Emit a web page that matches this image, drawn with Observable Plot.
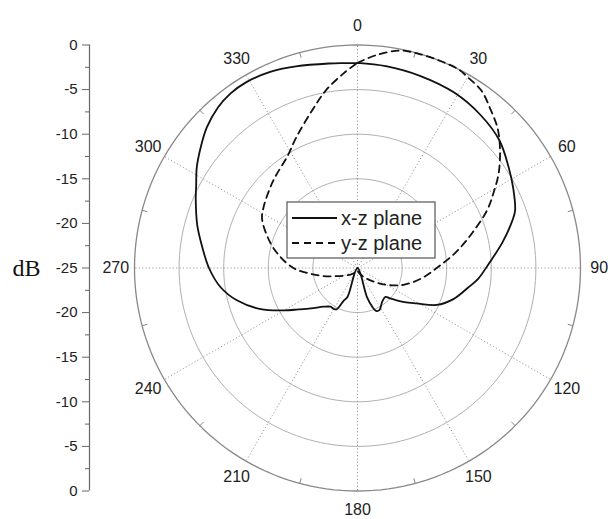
<!DOCTYPE html>
<html><head><meta charset="utf-8">
<script src="https://cdn.jsdelivr.net/npm/d3@7"></script>
<script src="https://cdn.jsdelivr.net/npm/@observablehq/plot@0.6"></script>
<style>body{margin:0;background:#fff} #chart{width:608px;height:519px}</style>
</head><body><div id="chart"></div>
<script>
// x-z plane (solid): angle in degrees (clockwise from top), gain in dB
const xzAngles = [0,8,18,29,39,48,56,63,70,73,80,88,95,100,108,115,121,126,130,133,136,144,152,156,159,162,180,199,203,207,210,215,221,229,235,240,247,255,262,270,278,285,293,297,302,308,313,319,324,329,336,343,352,360];
const xzGain   = [-2.0,-2.15,-2.35,-2.55,-3.0,-3.6,-4.6,-5.4,-6.2,-6.85,-8.5,-10.25,-11.4,-12.4,-13.7,-15.2,-17.3,-18.5,-19.4,-20.0,-20.5,-20.3,-19.7,-19.7,-20.3,-21.6,-25,-21.6,-21.0,-19.8,-19.7,-19.7,-19.25,-18.1,-16.9,-15.5,-13.2,-11.0,-9.5,-8.35,-7.4,-6.4,-5.3,-4.7,-3.75,-2.75,-1.9,-1.15,-0.8,-0.72,-0.93,-1.37,-1.85,-2.0];
// y-z plane (dashed)
const yzAngles = [0,5,11,16,22,27,30,35,40,45,50,56,61,66,73,81,89,99,110,120,130,140,155,170,180,195,210,225,240,250,257,263,268,271,278,286,297,303,316,328,335,344,350,356,360];
const yzGain   = [-2.0,-1.05,-0.17,-0.02,0,-0.02,-0.3,-0.75,-1.8,-2.8,-4.15,-5.9,-7.55,-9.1,-11.55,-13.85,-15.9,-17.7,-19.5,-21.2,-22.6,-23.5,-24.2,-24.6,-24.7,-24.6,-24.4,-24.0,-23.3,-22.3,-21.0,-19.7,-18.3,-17.6,-16.3,-14.85,-13.0,-12.45,-11.4,-10.2,-8.8,-6.6,-4.75,-3.1,-2.0];

const ringLevels = [-20,-15,-10,-5];
const outerLevel = 0;
const floorDb = -25;
const spokeAngles = [0,30,60,90,120,150,180,210,240,270,300,330];
const angleLabels = ["0","30","60","90","120","150","180","210","240","270","300","330"];
const minorAngles = [15,45,75,105,135,165,195,225,255,285,315,345];
const radialTicks = [-25,-20,-15,-10,-5,0,5,10,15,20,25];
const radialMinor = [-22.5,-17.5,-12.5,-7.5,-2.5,2.5,7.5,12.5,17.5,22.5];
const seriesNames = ["x-z plane","y-z plane"];

const rad = a => a * Math.PI / 180;
const px = (a, g) => (g - floorDb) * Math.sin(rad(a));
const py = (a, g) => (g - floorDb) * Math.cos(rad(a));

const xz = xzAngles.map((a, i) => ({a, g: xzGain[i]}));
const yz = yzAngles.map((a, i) => ({a, g: yzGain[i]}));
const circleSteps = d3.range(0, 361, 2);
const rings = ringLevels.flatMap(level => circleSteps.map(a => ({a, g: level})));
const outer = circleSteps.map(a => ({a, g: outerLevel}));

const font = "'Liberation Sans', Arial, sans-serif";

const svg = Plot.plot({
  width: 608, height: 519,
  marginLeft: 134, marginRight: 28, marginTop: 44.5, marginBottom: 28.5,
  x: {domain: [-25, 25], axis: null},
  y: {domain: [-25, 25]},
  style: {fontFamily: font, background: "white", color: "#222"},
  marks: [
    Plot.line(rings, {x: d => px(d.a, d.g), y: d => py(d.a, d.g), z: "g", stroke: "#b0b0b0", strokeWidth: 1}),
    Plot.link(spokeAngles, {x1: 0, y1: 0, x2: a => px(a, outerLevel), y2: a => py(a, outerLevel), stroke: "#999", strokeWidth: 1, strokeDasharray: "1.2,2.2"}),
    Plot.line(outer, {x: d => px(d.a, d.g), y: d => py(d.a, d.g), stroke: "#888", strokeWidth: 1.3}),
    Plot.link(minorAngles, {x1: a => px(a, outerLevel), y1: a => py(a, outerLevel), x2: a => px(a, outerLevel - 0.6), y2: a => py(a, outerLevel - 0.6), stroke: "#888", strokeWidth: 1}),
    Plot.text(spokeAngles, {x: a => px(a, outerLevel + 2.1), y: a => py(a, outerLevel + 2.1), text: (a, i) => angleLabels[i], fontSize: 16, fill: "#222", textAnchor: "middle", lineAnchor: "middle"}),
    Plot.line(yz, {x: d => px(d.a, d.g), y: d => py(d.a, d.g), stroke: "#111", strokeWidth: 1.8, strokeDasharray: "7,5", curve: "catmull-rom"}),
    Plot.line(xz, {x: d => px(d.a, d.g), y: d => py(d.a, d.g), stroke: "#111", strokeWidth: 1.8, curve: "catmull-rom"}),
    Plot.ruleX([-25], {y1: -25, y2: 25, dx: -45, stroke: "#666", strokeWidth: 1.2}),
    Plot.axisY({anchor: "left", ticks: radialTicks, tickFormat: v => String(Math.abs(v) + floorDb), dx: -45, tickSize: 7, tickPadding: 5, fontSize: 15, stroke: "#666", fill: "#222", label: null}),
    Plot.axisY({anchor: "left", ticks: radialMinor, tickFormat: () => "", dx: -45, tickSize: 4, stroke: "#666", label: null}),
    Plot.text(["dB"], {frameAnchor: "left", dx: -122, dy: 0, textAnchor: "start", lineAnchor: "middle", fontFamily: "'Liberation Serif', 'Times New Roman', serif", fontSize: 24, fill: "#111"})
  ]
});

// legend box inside the plot
const lg = d3.select(svg).append("g").attr("font-family", font).attr("font-size", 20).attr("fill", "#222").attr("text-anchor", "start");
lg.append("rect").attr("x", 287).attr("y", 202).attr("width", 148).attr("height", 56).attr("fill", "white").attr("stroke", "#555").attr("stroke-width", 1.2);
lg.append("line").attr("x1", 292).attr("x2", 337).attr("y1", 218).attr("y2", 218).attr("stroke", "#111").attr("stroke-width", 1.8);
lg.append("line").attr("x1", 292).attr("x2", 338).attr("y1", 243).attr("y2", 243).attr("stroke", "#111").attr("stroke-width", 1.8).attr("stroke-dasharray", "7,5");
lg.append("text").attr("x", 341).attr("y", 218).attr("dy", "0.35em").attr("text-anchor", "start").text(seriesNames[0]);
lg.append("text").attr("x", 341).attr("y", 243).attr("dy", "0.35em").attr("text-anchor", "start").text(seriesNames[1]);

document.getElementById("chart").appendChild(svg);
</script></body></html>
